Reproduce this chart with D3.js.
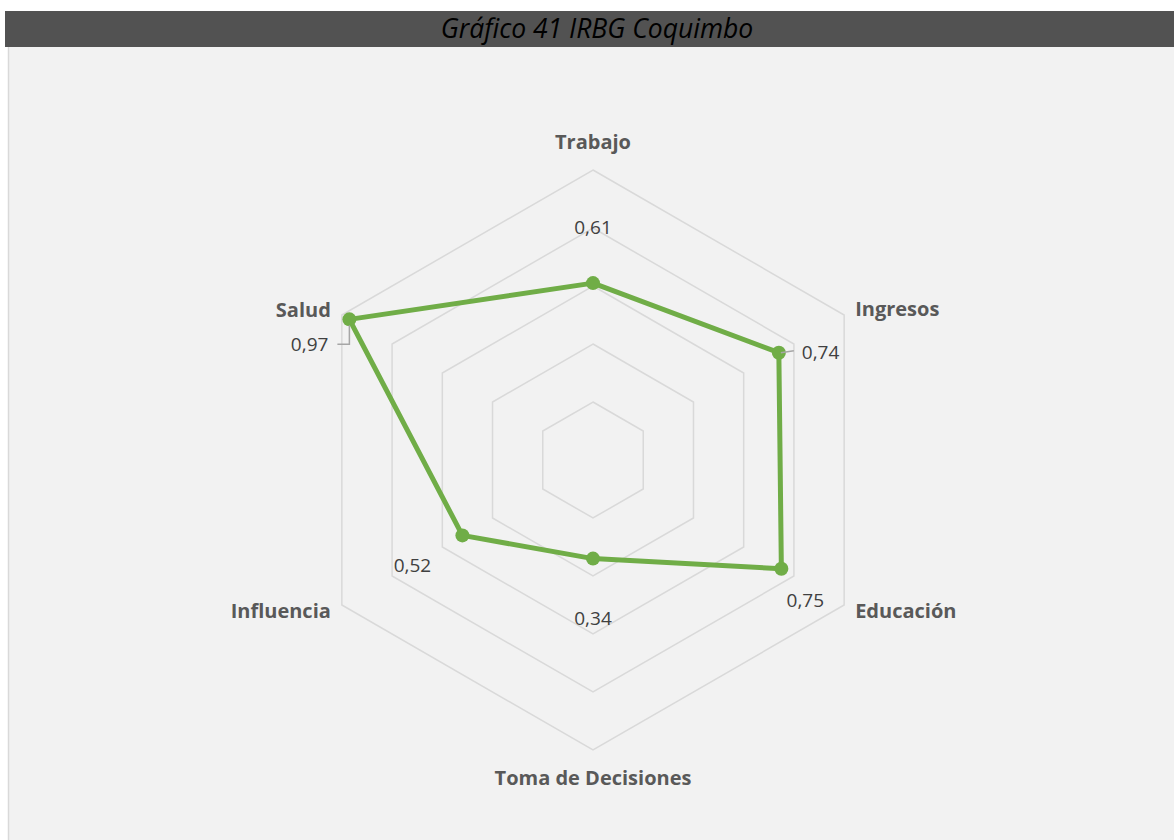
<!DOCTYPE html>
<html><head><meta charset="utf-8">
<script src="https://cdn.jsdelivr.net/npm/d3@7"></script>
<style>
html,body{margin:0;padding:0;background:#fff;}
svg{display:block;}
</style></head>
<body>
<svg id="chart" width="1174" height="840"></svg>
<script>
const title = "Gráfico 41 IRBG Coquimbo";
const categories = ["Trabajo","Ingresos","Educación","Toma de Decisiones","Influencia","Salud"];
const values = [0.61,0.74,0.75,0.34,0.52,0.97];
const valueLabels = ["0,61","0,74","0,75","0,34","0,52","0,97"];
const ringLevels = [0.2,0.4,0.6,0.8,1.0];

const svg = d3.select("#chart");
const W = 1174, H = 840;
const font = "'Open Sans', 'Noto Sans', sans-serif";

// backgrounds
svg.append("rect").attr("x",0).attr("y",0).attr("width",W).attr("height",H).attr("fill","#ffffff");
svg.append("rect").attr("x",9).attr("y",47).attr("width",W-9).attr("height",H-47).attr("fill","#f2f2f2");
svg.append("line").attr("x1",8.5).attr("x2",8.5).attr("y1",47).attr("y2",H).attr("stroke","#d9d9d9").attr("stroke-width",1.5);
svg.append("rect").attr("x",5).attr("y",11).attr("width",W-5).attr("height",36).attr("fill","#525252");
svg.append("text").attr("x",597).attr("y",31).attr("text-anchor","middle").attr("dominant-baseline","middle")
  .attr("font-family",font).attr("font-style","italic").attr("font-size",26.5).attr("fill","#000").text(title);

const cx = 593, cy = 460, R = 290;
const r = d3.scaleLinear().domain([0,1]).range([0,R]);
const angle = d3.scaleLinear().domain([0,categories.length]).range([0,2*Math.PI]);
const pt = (i,v)=>[cx + r(v)*Math.sin(angle(i)), cy - r(v)*Math.cos(angle(i))];

const g = svg.append("g");
// grid rings
ringLevels.forEach(lv=>{
  const pts = categories.map((c,i)=>pt(i,lv));
  g.append("path").attr("d", d3.line()(pts)+"Z").attr("fill","none").attr("stroke","#d9d9d9").attr("stroke-width",1.5);
});

// series
const spts = values.map((v,i)=>pt(i,v));
g.append("path").attr("d", d3.line()(spts)+"Z").attr("fill","none").attr("stroke","#70ad47").attr("stroke-width",5).attr("stroke-linejoin","round");
g.selectAll("circle.m").data(spts).join("circle").attr("cx",d=>d[0]).attr("cy",d=>d[1]).attr("r",7).attr("fill","#70ad47");

// category labels
const catPos = [
  {dx:0, dy:-26, anchor:"middle"},
  {dx:11, dy:-4, anchor:"start"},
  {dx:11, dy:8, anchor:"start"},
  {dx:0, dy:30, anchor:"middle"},
  {dx:-11, dy:8, anchor:"end"},
  {dx:-11, dy:-3, anchor:"end"}
];
categories.forEach((c,i)=>{
  const [x,y] = pt(i,1);
  const p = catPos[i];
  g.append("text").attr("x",x+p.dx).attr("y",y+p.dy).attr("text-anchor",p.anchor)
    .attr("dominant-baseline","middle")
    .attr("font-family",font).attr("font-weight","bold").attr("font-size",20).attr("fill","#595959").text(c);
});

// value labels (offsets relative to data point)
const valPos = [
  {dx:0, dy:-54, anchor:"middle"},
  {dx:23, dy:1, anchor:"start"},
  {dx:24, dy:33, anchor:"middle"},
  {dx:0, dy:61, anchor:"middle"},
  {dx:-50, dy:32, anchor:"middle"},
  {dx:-21, dy:27, anchor:"end"}
];
values.forEach((v,i)=>{
  const [x,y] = spts[i];
  const p = valPos[i];
  g.append("text").attr("x",x+p.dx).attr("y",y+p.dy).attr("text-anchor",p.anchor)
    .attr("dominant-baseline","middle")
    .attr("font-family",font).attr("font-size",19).attr("fill","#404040").text(valueLabels[i]);
});
// leader lines
{
  const [x,y] = spts[1];
  g.append("path").attr("d",`M${x+2},${y}L${x+15},${y-2}`).attr("stroke","#a6a6a6").attr("stroke-width",1.5).attr("fill","none");
}
{
  const [x,y] = spts[5];
  g.append("path").attr("d",`M${x-12},${y+25}L${x},${y+25}L${x},${y+6}`).attr("stroke","#a6a6a6").attr("stroke-width",1.5).attr("fill","none");
}
</script>
</body></html>
